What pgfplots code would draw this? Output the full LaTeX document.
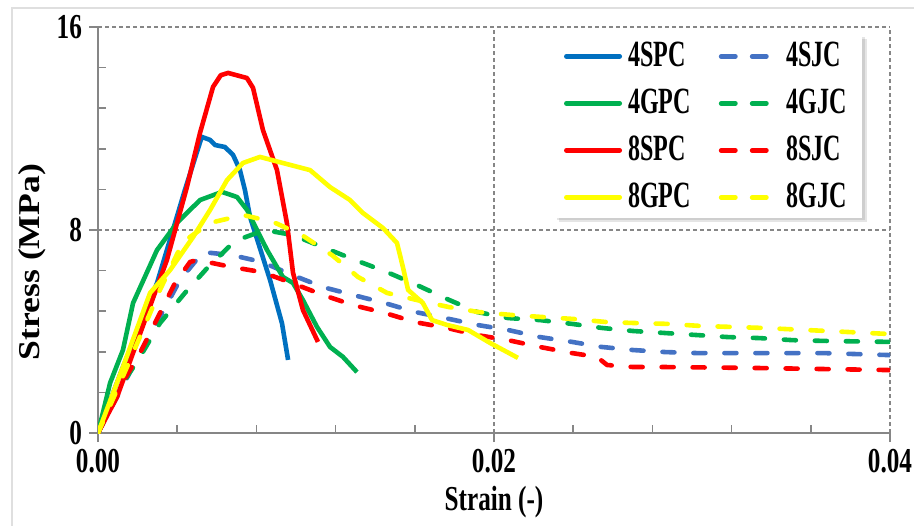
\documentclass[border=0pt]{standalone}
\usepackage{fontspec}
\setmainfont{Liberation Serif}[FakeStretch=0.72]
\newfontfamily\ylabfont{Liberation Serif}
\newfontfamily\legfont{Liberation Serif}[FakeStretch=0.65]
\usepackage{graphicx}
\usepackage{pgfplots}
\pgfplotsset{compat=1.18}
\definecolor{cblue}{HTML}{0070C0}
\definecolor{cgreen}{HTML}{00B050}
\definecolor{cred}{HTML}{FF0000}
\definecolor{cyel}{HTML}{FFFF00}
\definecolor{cdblue}{HTML}{4472C4}
\definecolor{axgray}{HTML}{868686}
\pgfplotsset{
  solidimg/.style={legend image code/.code={\draw[##1, line cap=round, solid] (1.15pt,0pt) -- (27.85pt,0pt);}},
  dashimg/.style={legend image code/.code={\draw[##1, line cap=round] (1.15pt,0pt) -- (22.85pt,0pt); \path (0pt,0pt) -- (28.5pt,0pt);}},
  jdash/.style={dash pattern=on 6pt off 9.5pt, line cap=round},
}
\begin{document}
\begin{tikzpicture}
\useasboundingbox (-49pt,-46pt) rectangle (408pt,216.5pt);
\draw[gray!25, line width=0.8pt] (-43pt,-60pt) -- (-43pt,212.5pt) -- (420pt,212.5pt);
\begin{axis}[
  scale only axis, width=396pt, height=203pt,
  xmin=0, xmax=0.04, ymin=0, ymax=16,
  scaled x ticks=false, scaled y ticks=false,
  axis x line=bottom, axis y line=left,
  axis line style={-, axgray, line width=1pt},
  xtick={0,0.02,0.04}, xticklabels={0.00,0.02,0.04},
  ytick={0,8,16}, yticklabels={0,8,16},
  minor x tick num=4, minor y tick num=4,
  tick align=outside,
  major tick length=4.5pt, minor tick length=4pt,
  tick style={axgray, line width=0.8pt},
  minor x tick style={yshift=4pt},
  minor y tick style={xshift=4pt},
  grid=major,
  major grid style={axgray, line width=0.8pt, dash pattern=on 2pt off 1.5pt},
  tick label style={font=\fontsize{17.5}{20}\selectfont\bfseries},
  xlabel={Strain (-)},
  xlabel style={font=\fontsize{17.5}{20}\selectfont\bfseries, at={(axis description cs:0.5,-0.17)}, anchor=center},
  ylabel={\scalebox{1}[0.85]{\ylabfont\bfseries\fontsize{17.8}{20}\selectfont Stress (MPa)}},
  ylabel style={at={(axis description cs:-0.0833,0.421)}, anchor=center},
  legend columns=2,
  legend cell align=left,
  legend style={at={(rel axis cs:0.9646,0.9803)}, anchor=north east, draw=none, fill=white,
    font=\legfont\fontsize{18.5}{20}\selectfont\bfseries,
    inner xsep=7.5pt, inner ysep=3pt, row sep=8.5pt,
    nodes={inner sep=0pt, text height=12.5pt, text depth=2.5pt},
    /tikz/every odd column/.append style={column sep=3pt},
    /tikz/every even column/.append style={column sep=14pt}},
  every axis plot/.append style={line width=2.3pt, line join=round},
]
% soft shadow behind the legend box
\fill[black, opacity=0.10] (rel axis cs:0.5821,0.5197) rectangle (rel axis cs:0.9710,0.9704);
\fill[black, opacity=0.10] (rel axis cs:0.5795,0.5246) rectangle (rel axis cs:0.9684,0.9754);
% 4SPC
\addplot[cblue, solid, solidimg] coordinates {
(0,0) (0.00126,2.60) (0.00298,5.91) (0.00439,9.58) (0.00524,11.67) (0.00566,11.55)
(0.00591,11.35) (0.00641,11.27) (0.00682,10.96) (0.00717,10.36) (0.00742,9.58)
(0.00768,8.51) (0.00869,6.03) (0.00929,4.33) (0.00960,2.88)};
\addlegendentry{4SPC}
% 4SJC
\addplot[cdblue, jdash, dashimg] coordinates {
(0,0) (0.00101,1.50) (0.00212,3.15) (0.00313,4.57) (0.00414,6.03) (0.00530,7.13)
(0.00677,7.01) (0.00828,6.74) (0.00980,6.23) (0.01136,5.75) (0.01288,5.44)
(0.01449,5.12) (0.01601,4.77) (0.01753,4.53) (0.01914,4.26) (0.02071,4.06)
(0.02232,3.78) (0.02394,3.59) (0.02545,3.39) (0.02702,3.27) (0.02864,3.19)
(0.03025,3.15) (0.03343,3.15) (0.03662,3.15) (0.04,3.07)};
\addlegendentry{4SJC}
% 4GPC
\addplot[cgreen, solid, solidimg] coordinates {
(0,0) (0.00061,1.97) (0.00126,3.27) (0.00177,5.12) (0.00298,7.21) (0.00399,8.28)
(0.00515,9.18) (0.00626,9.50) (0.00702,9.30) (0.00753,8.79) (0.00803,8.00)
(0.00854,7.21) (0.00904,6.54) (0.00934,6.15) (0.00985,5.91) (0.01035,5.24)
(0.01106,4.18) (0.01172,3.39) (0.01237,3.00) (0.01308,2.40)};
\addlegendentry{4GPC}
% 4GJC
\addplot[cgreen, jdash, dashimg] coordinates {
(0,0) (0.00126,1.97) (0.00212,3.00) (0.00313,4.33) (0.00439,5.52) (0.00556,6.54)
(0.00692,7.57) (0.00843,8.00) (0.00985,7.80) (0.01146,7.29) (0.01298,6.82)
(0.01460,6.34) (0.01611,5.83) (0.01763,5.28) (0.01914,4.77) (0.02071,4.53)
(0.02232,4.45) (0.02394,4.30) (0.02545,4.14) (0.02702,4.02) (0.02864,3.94)
(0.03025,3.86) (0.03182,3.78) (0.03343,3.74) (0.03505,3.66) (0.03662,3.63) (0.04,3.59)};
\addlegendentry{4GJC}
% 8SPC
\addplot[cred, solid, solidimg] coordinates {
(0,0) (0.00096,1.42) (0.00348,6.82) (0.00449,9.69) (0.00515,11.82) (0.00581,13.64)
(0.00620,14.10) (0.00657,14.19) (0.00752,13.99) (0.00783,13.60) (0.00833,11.94) (0.00904,10.36)
(0.00954,8.28) (0.00985,6.31) (0.01035,4.85) (0.01111,3.59)};
\addlegendentry{8SPC}
% 8SJC
\addplot[cred, jdash, dashimg] coordinates {
(0,0) (0.00101,1.69) (0.00212,3.15) (0.00303,4.57) (0.00389,5.91) (0.00465,6.74)
(0.00500,6.82) (0.00677,6.54) (0.00828,6.34) (0.00980,5.91) (0.01136,5.44)
(0.01288,5.04) (0.01449,4.73) (0.01601,4.37) (0.01763,4.14) (0.01914,3.86)
(0.02071,3.66) (0.02232,3.39) (0.02394,3.15) (0.02520,3.00) (0.02571,2.68)
(0.02702,2.60) (0.02864,2.60) (0.03343,2.56) (0.04,2.48)};
\addlegendentry{8SJC}
% 8GPC
\addplot[cyel, solid, solidimg] coordinates {
(0,0) (0.00126,2.60) (0.00263,5.52) (0.00364,6.42) (0.00480,7.72) (0.00566,8.79)
(0.00652,9.97) (0.00732,10.64) (0.00818,10.88) (0.00934,10.64) (0.01071,10.36)
(0.01172,9.69) (0.01273,9.18) (0.01338,8.67) (0.01439,8.08) (0.01510,7.49)
(0.01540,6.54) (0.01566,5.64) (0.01641,5.12) (0.01687,4.45) (0.01762,4.26)
(0.01869,4.06) (0.01980,3.55) (0.02121,2.96)};
\addlegendentry{8GPC}
% 8GJC
\addplot[cyel, jdash, dashimg] coordinates {
(0,0) (0.00162,2.88) (0.00313,5.64) (0.00429,7.53) (0.00566,8.28) (0.00732,8.59)
(0.00884,8.32) (0.01030,7.80) (0.01182,7.01) (0.01313,6.15) (0.01460,5.52)
(0.01611,5.24) (0.01768,4.97) (0.01919,4.77) (0.02091,4.65) (0.02247,4.57)
(0.02409,4.49) (0.02571,4.37) (0.02727,4.33) (0.02879,4.30) (0.03040,4.22)
(0.03359,4.14) (0.03682,4.02) (0.04,3.90)};
\addlegendentry{8GJC}
\end{axis}
\end{tikzpicture}
\end{document}
